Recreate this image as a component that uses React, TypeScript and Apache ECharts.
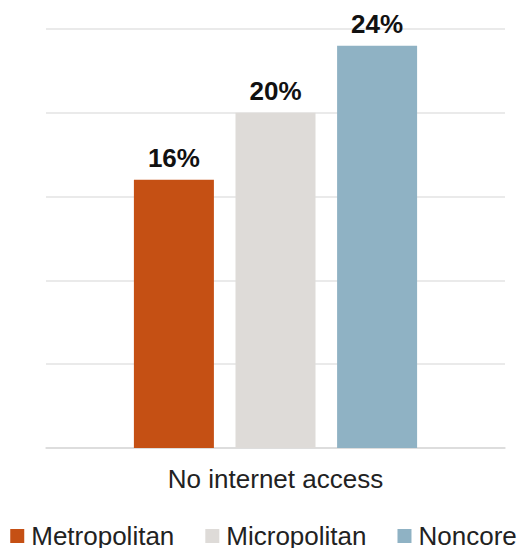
import React, { useEffect, useRef } from "react";
import * as echarts from "echarts";

const categories = ["No internet access"];
const seriesNames = ["Metropolitan", "Micropolitan", "Noncore"];
const metropolitan = [16];
const micropolitan = [20];
const noncore = [24];
const colors = ["#C55014", "#DEDBD8", "#8FB2C4"];

export default function App() {
  const ref = useRef<HTMLDivElement>(null);
  useEffect(() => {
    const chart = echarts.init(ref.current!, null, { renderer: "svg" });
    const values = [metropolitan, micropolitan, noncore];
    chart.setOption({
      animation: false,
      textStyle: { fontFamily: "Liberation Sans, Arial, sans-serif" },
      grid: { left: 46, right: 22, top: 29, bottom: 108 },
      legend: {
        bottom: 2,
        left: "center",
        itemWidth: 14,
        itemHeight: 14,
        itemGap: 31,
        icon: "rect",
        textStyle: { fontSize: 26, color: "#222", fontFamily: "Liberation Sans, Arial, sans-serif", padding: [0, 0, 0, 2] },
        data: seriesNames,
      },
      xAxis: {
        type: "category",
        data: categories,
        axisLine: { lineStyle: { color: "#d9d9d9", width: 1.5 } },
        axisTick: { show: false },
        axisLabel: { fontSize: 26, color: "#222", margin: 18 },
      },
      yAxis: {
        type: "value",
        min: 0,
        max: 25,
        interval: 5,
        axisLabel: { show: false },
        axisLine: { show: false },
        axisTick: { show: false },
        splitLine: { lineStyle: { color: "#e3e3e3", width: 1.5 } },
      },
      series: seriesNames.map((name, i) => ({
        name,
        type: "bar",
        data: values[i],
        barWidth: 80,
        barGap: "27%",
        itemStyle: { color: colors[i] },
        label: {
          show: true,
          position: "top",
          distance: 9,
          formatter: "{c}%",
          fontSize: 26,
          fontWeight: "bold",
          color: "#111",
        },
      })),
    });
    return () => chart.dispose();
  }, []);
  return <div ref={ref} style={{ width: 527, height: 556, margin: -8 }} />;
}
